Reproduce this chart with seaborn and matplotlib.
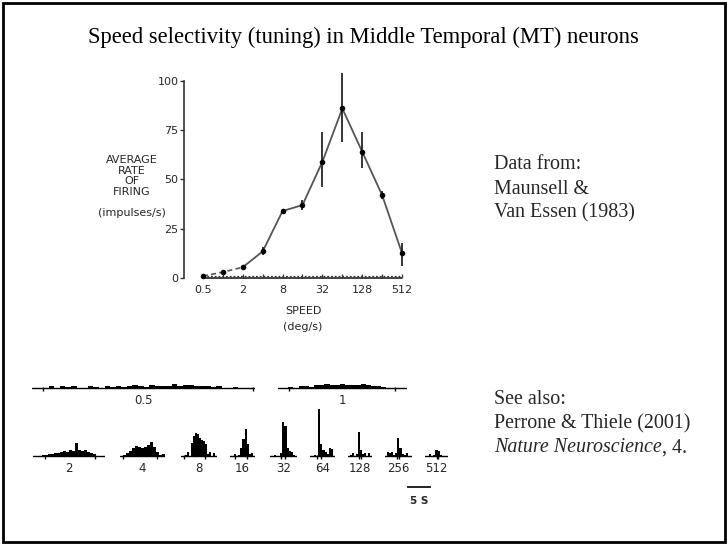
import numpy as np
import matplotlib
matplotlib.use('Agg')
import matplotlib.pyplot as plt
from matplotlib.patches import Rectangle
import seaborn as sns

# Tuning curve (Maunsell & Van Essen 1983)
speeds = [0.5, 1, 2, 4, 8, 16, 32, 64, 128, 256, 512]
rate = [1.0, 3.0, 5.5, 13.5, 34.0, 37.0, 59.0, 86.0, 64.0, 42.0, 12.5]
err_low = [0.8, 0.5, 0.5, 2.0, 1.0, 2.5, 13.0, 17.0, 8.0, 2.0, 6.5]
err_high = [1.0, 0.5, 0.5, 2.0, 1.0, 2.5, 15.0, 18.0, 10.0, 2.0, 5.5]
spont = [0.8, 0.8, 0.8, 0.8, 0.8, 0.8, 0.8, 0.8, 0.8, 0.8, 0.8]
xtick_vals = [0.5, 2, 8, 32, 128, 512]
xtick_labels = ['0.5', '2', '8', '32', '128', '512']
ytick_vals = [0, 25, 50, 75, 100]

# Peri-stimulus histograms, one per speed (duration in s, bin heights)
psth_labels = ['0.5', '1', '2', '4', '8', '16', '32', '64', '128', '256', '512']
psth_dur = [46.5, 26.9, 15.0, 9.4, 7.5, 5.2, 5.6, 5.2, 5.0, 5.6, 4.8]
psth_rate_05 = [0, 0, 0, 2, 0, 2, 1, 2, 0, 0.5, 2, 1, 0.5, 2, 1.5, 2, 1, 2.5, 3, 2,
                1.5, 3.5, 2, 2.5, 2, 4.5, 2, 3.5, 3, 2.5, 2, 2.5, 1, 2, 0.5, 0, 1, 0, 0, 0]
psth_rate_1 = [0, 0.5, 1.5, 0.5, 2, 2.5, 1.5, 3, 3.5, 4, 3, 3.5, 4, 3, 3.5, 3, 4, 3, 2.5, 2, 1, 0.5, 0, 0, 0]
psth_rate_2 = [0, 0, 0.5, 1, 1, 2, 2.5, 3, 3, 4, 5, 4, 6, 5, 13, 6, 5, 6, 4, 3, 2, 0.5, 0, 0]
psth_rate_4 = [0, 1, 3, 5, 8, 10, 9, 8, 9, 11, 14, 9, 4, 1, 2]
psth_rate_8 = [0, 0, 1, 4, 0, 13, 20, 23, 22, 18, 16, 15, 12, 2, 4, 0, 3, 0]
psth_rate_16 = [0, 0, 2, 0, 1, 8, 17, 27, 12, 2, 3, 0]
psth_rate_32 = [0, 0, 1, 0, 0, 3, 34, 30, 8, 5, 4, 1, 0]
psth_rate_64 = [0, 0, 1, 0, 47, 12, 6, 4, 2, 8, 7, 0]
psth_rate_128 = [0, 1, 3, 0, 2, 24, 6, 2, 3, 0, 3, 0]
psth_rate_256 = [0, 4, 3, 4, 1, 3, 18, 8, 2, 1, 3, 0, 0]
psth_rate_512 = [0, 0, 2, 0, 1, 6, 5, 1, 0, 0, 0]
psth_rates = [psth_rate_05, psth_rate_1, psth_rate_2, psth_rate_4, psth_rate_8, psth_rate_16,
              psth_rate_32, psth_rate_64, psth_rate_128, psth_rate_256, psth_rate_512]
stim_marks = [(2.3, 46.0), (2.3, 24.4), (2.5, 12.9), (0.6, 7.7), (0.6, 5.0), (1.0, 3.5),
              (2.3, 3.1), (1.5, 2.3), (2.2, 2.7), (2.5, 3.0), (2.5, 2.8)]
scale_bar_s = 5

sns.set_theme(style='white')
plt.rcParams['font.family'] = ['DejaVu Sans']

W, H = 727, 544
fig = plt.figure(figsize=(W / 100, H / 100), dpi=100)


def px_box(x0, y0, x1, y1):
    # pixel box (top-left origin) -> figure fraction rect
    return [x0 / W, 1 - y1 / H, (x1 - x0) / W, (y1 - y0) / H]


# slide frame
fig.patches.append(Rectangle((2.5 / W, 2.5 / H), 722 / W, 539 / H, transform=fig.transFigure,
                             fill=False, edgecolor='black', linewidth=2))

fig.text(363 / W, 1 - 37 / H, 'Speed selectivity (tuning) in Middle Temporal (MT) neurons',
         ha='center', va='center', family='Liberation Serif', fontsize=16.3, color='black')

# --- tuning curve ---
ax = fig.add_axes(px_box(184, 69, 420, 282))
ax.set_xscale('log', base=2)
sns.lineplot(x=speeds[:3], y=rate[:3], ax=ax, color='#555555', lw=1.2, linestyle=(0, (3, 2)))
sns.lineplot(x=speeds[2:], y=rate[2:], ax=ax, color='#555555', lw=1.3)
ax.errorbar(speeds, rate, yerr=[err_low, err_high], fmt='none', ecolor='black', elinewidth=1.1, capsize=0)
sns.scatterplot(x=speeds, y=rate, ax=ax, color='black', s=16, linewidth=0, zorder=5)
ax.hlines(0, speeds[0], speeds[-1], color='#222222', lw=1.2)
ax.plot(speeds, spont, color='#333333', lw=0.9, linestyle=(0, (1.5, 1.5)), marker='|', ms=3, mew=0.9)

ax.set_xlim(0.5 / 2 ** 0.95, 512 * 2 ** 0.9)
ax.set_ylim(-2, 106)
ax.set_xticks(xtick_vals)
ax.set_xticklabels(xtick_labels)
ax.minorticks_off()
ax.set_yticks(ytick_vals)
ax.tick_params(axis='x', length=0, pad=2, labelsize=8)
ax.tick_params(axis='y', left=True, length=3, width=1, pad=1, labelsize=8, color='#333333')
for s in ['top', 'right', 'bottom']:
    ax.spines[s].set_visible(False)
ax.spines['left'].set_bounds(0, 100)
ax.spines['left'].set_color('#333333')
ax.spines['left'].set_linewidth(1.2)
ax.patch.set_alpha(0)

fig.text(132 / W, 1 - 176 / H, 'AVERAGE\nRATE\nOF\nFIRING', ha='center', va='center',
         fontsize=8, linespacing=1.05)
fig.text(132 / W, 1 - 213 / H, '(impulses/s)', ha='center', va='center', fontsize=8)
fig.text(303 / W, 1 - 311 / H, 'SPEED', ha='center', va='center', fontsize=8)
fig.text(303 / W, 1 - 327 / H, '(deg/s)', ha='center', va='center', fontsize=8)

# --- PSTHs ---
px_per_s = 24 / 5
psth_left = [32, 278, 33, 120, 181, 230, 270, 310, 348, 385, 425]
psth_base = [388, 388, 456, 456, 456, 456, 456, 456, 456, 456, 456]
for lab, dur, r, marks, x0, yb in zip(psth_labels, psth_dur, psth_rates, stim_marks, psth_left, psth_base):
    pax = fig.add_axes(px_box(x0, yb - 50, x0 + dur * px_per_s, yb + 6))
    edges = np.linspace(0, dur, len(r) + 1)
    pax.bar(edges[:-1], r, width=dur / len(r), align='edge', color='black', linewidth=0)
    pax.axhline(0, color='black', lw=1)
    pax.vlines(marks, -3, 1.5, color='black', lw=1)
    pax.set_xlim(0, dur)
    pax.set_ylim(-6, 50)
    pax.text(dur / 2, -12, lab, ha='center', va='center', fontsize=8.5)
    pax.axis('off')

# 5 s scale bar
sax = fig.add_axes(px_box(407, 480, 407 + scale_bar_s * px_per_s, 494))
sax.plot([0, scale_bar_s], [0, 0], color='black', lw=1.2)
sax.set_xlim(0, scale_bar_s)
sax.set_ylim(-1, 1)
sax.text(scale_bar_s / 2, -2.0, '5 S', ha='center', va='center', fontsize=7.5, fontweight='bold')
sax.axis('off')

# --- citation text ---
serif = 'Liberation Serif'
fs = 14.4
for txt, yy in [('Data from:', 165), ('Maunsell &', 189), ('Van Essen (1983)', 213),
                ('See also:', 400), ('Perrone & Thiele (2001)', 424)]:
    fig.text(494 / W, 1 - yy / H, txt, ha='left', va='center', family=serif, fontsize=fs)
t_it = fig.text(494 / W, 1 - 448 / H, 'Nature Neuroscience', ha='left', va='center',
                family=serif, fontsize=fs, style='italic')
fig.canvas.draw()
bb = t_it.get_window_extent()
fig.text(bb.x1 / W, 1 - 448 / H, ', 4.', ha='left', va='center', family=serif, fontsize=fs)

fig.savefig('out.png', dpi=100)
print('Saved out.png')
